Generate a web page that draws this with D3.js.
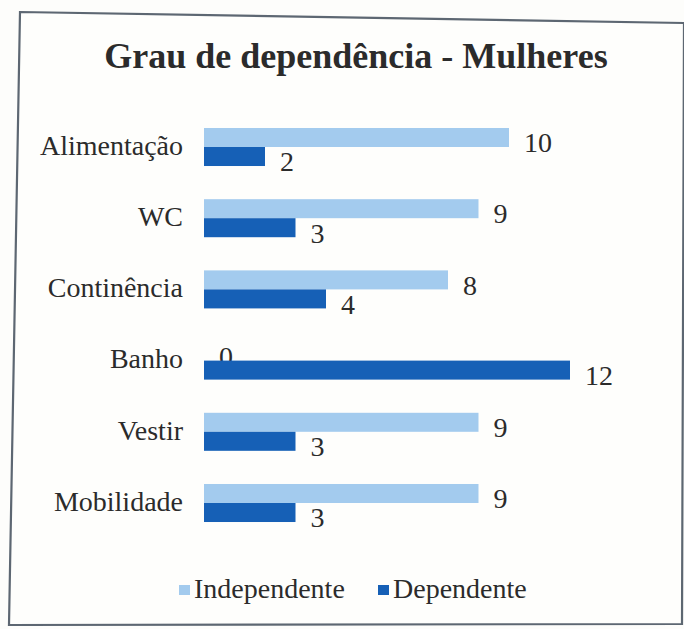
<!DOCTYPE html>
<html>
<head>
<meta charset="utf-8">
<script src="https://cdn.jsdelivr.net/npm/d3@7"></script>
<style>
  html, body { margin: 0; padding: 0; background: #fdfdfb; }
  svg { display: block; }
  text { font-family: "Liberation Serif", "Times New Roman", "DejaVu Serif", serif; fill: #2b2b2b; }
</style>
</head>
<body>
<svg id="chart" width="684" height="629"></svg>
<script>
const categories = ["Alimentação", "WC", "Continência", "Banho", "Vestir", "Mobilidade"];
const seriesNames = ["Independente", "Dependente"];
const independente = [10, 9, 8, 0, 9, 9];
const dependente = [2, 3, 4, 12, 3, 3];
const titleText = "Grau de dependência - Mulheres";

const colors = { Independente: "#a3cbee", Dependente: "#1660b6" };
const FONT = "Liberation Serif, Times New Roman, serif";

const svg = d3.select("#chart");

// frame
svg.append("path")
  .attr("d", "M20,12 L684,23 L682,624 L9,625 Z")
  .attr("fill", "#fefefc")
  .attr("stroke", "#5d6772")
  .attr("stroke-width", 2.2);

// title
svg.append("text")
  .attr("x", 356).attr("y", 68)
  .attr("text-anchor", "middle")
  .attr("font-family", FONT)
  .attr("font-size", 36)
  .attr("font-weight", "bold")
  .text(titleText);

const x = d3.scaleLinear().domain([0, 12]).range([204, 570]);
const y = d3.scaleBand().domain(categories).range([111.4, 538.6])
  .paddingInner(0.466).paddingOuter(0.233);
const ys = d3.scaleBand().domain(seriesNames).range([0, y.bandwidth()]);

const data = seriesNames.map(s => ({
  name: s,
  values: categories.map((c, i) => ({ cat: c, v: s === "Independente" ? independente[i] : dependente[i] }))
}));

// category labels
svg.append("g").selectAll("text").data(categories).join("text")
  .attr("x", 183)
  .attr("y", d => y(d) + y.bandwidth() / 2)
  .attr("dy", "0.28em")
  .attr("text-anchor", "end")
  .attr("font-family", FONT)
  .attr("font-size", 28)
  .text(d => d);

// bars + labels per series (labels of first series drawn before second series bars)
data.forEach(s => {
  const g = svg.append("g");
  g.selectAll("rect").data(s.values).join("rect")
    .attr("x", x(0))
    .attr("y", d => y(d.cat) + ys(s.name))
    .attr("width", d => x(d.v) - x(0))
    .attr("height", ys.bandwidth())
    .attr("fill", colors[s.name]);
  g.selectAll("text").data(s.values).join("text")
    .attr("x", d => x(d.v) + 15)
    .attr("y", d => y(d.cat) + ys(s.name) + ys.bandwidth() / 2 + 5)
    .attr("dy", "0.35em")
    .attr("font-family", FONT)
    .attr("font-size", 28)
    .text(d => d.v);
});

// legend
const legendPos = [{ name: "Independente", x: 179 }, { name: "Dependente", x: 378 }];
const lg = svg.append("g");
legendPos.forEach(l => {
  lg.append("rect").attr("x", l.x).attr("y", 585).attr("width", 11).attr("height", 10)
    .attr("fill", colors[l.name]);
  lg.append("text").attr("x", l.x + 15).attr("y", 598)
    .attr("font-family", FONT).attr("font-size", 28).text(l.name);
});
</script>
</body>
</html>
